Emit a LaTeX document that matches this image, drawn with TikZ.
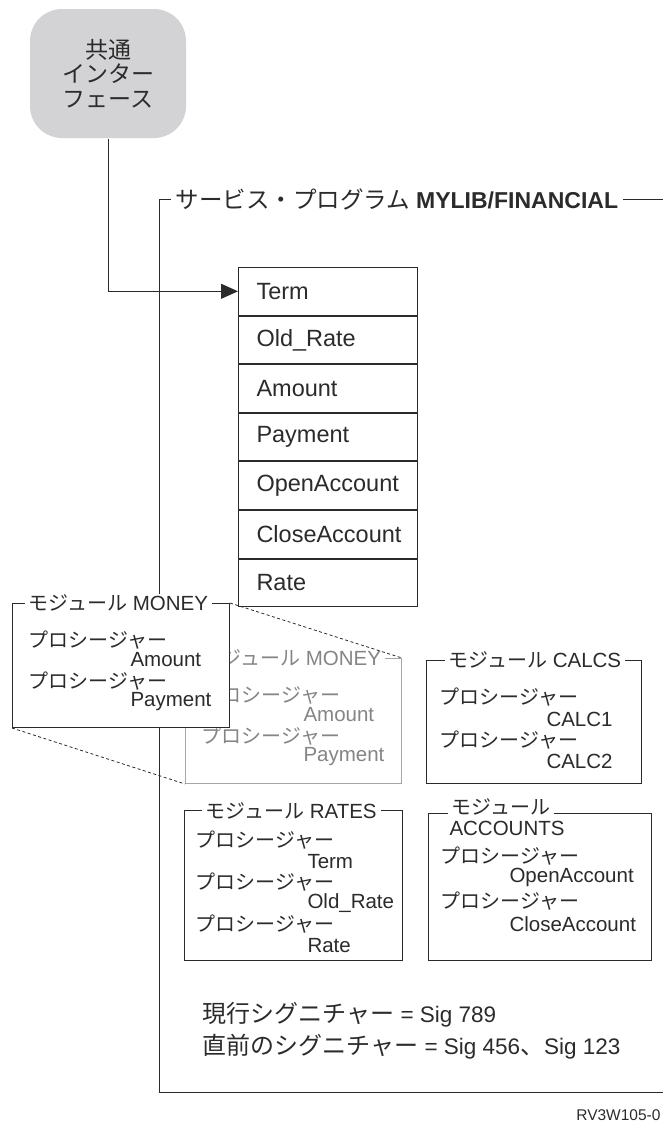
\documentclass[tikz,border=0pt]{standalone}
\usepackage{fontspec}
\setmainfont{Liberation Sans}
\newfontfamily\jpfont{Noto Sans CJK JP}
\usetikzlibrary{arrows.meta}
% Japanese run at a given size
\newcommand\jptext[2]{{\jpfont\fontsize{#1pt}{#1pt}\selectfont #2}}
\newcommand\proc{\jptext{20}{プロシージャー}}
\newcommand\modname{\jptext{20}{モジュール}}

\definecolor{ifgray}{HTML}{D3D3D5}
\definecolor{inkc}{HTML}{2B2B2B}

\begin{document}
\begin{tikzpicture}[x=1pt,y=-1pt,line width=1pt,
  ink/.style={draw=inkc},
  lbl/.style={anchor=west, inner sep=0pt, text=inkc},
  modtext/.style={lbl, font=\fontsize{20.5}{22}\selectfont},
  modbox/.style={draw=inkc, fill=white, anchor=north west, inner sep=0pt},
  modtitle/.style={anchor=west, fill=white, inner xsep=4pt, inner ysep=1pt, text=inkc,
    font=\fontsize{20.5}{22}\selectfont},
  faded/.style={text=black!48},
  fadedbox/.style={draw=black!35},
  tablerow/.style={draw=inkc, minimum width=179pt, minimum height=47.6pt,
    inner xsep=18pt, inner ysep=0pt, text width=143pt, align=left, text=inkc,
    font=\fontsize{23.5}{25}\selectfont},
  sigtext/.style={lbl, font=\fontsize{22.5}{24}\selectfont}
]
\useasboundingbox (0,0) rectangle (663,1122);

% common interface
\node[fill=ifgray, rounded corners=32pt, minimum width=156pt, minimum height=129pt,
      align=center, text=inkc, font=\jpfont\fontsize{23}{24.5}\selectfont]
  (iface) at (108,73.5) {共通\\インター\\フェース};

% service program frame (the front MONEY box is filled white and hides its middle part)
\draw[ink] (663,199) -- (159,199) -- (159,1092) -- (663,1092);
\node[fill=white, anchor=west, inner xsep=5pt, inner ysep=2pt, text=inkc,
      font=\fontsize{23}{25}\selectfont]
  (svc) at (170,199) {\jptext{23.5}{サービス・プログラム} \textbf{MYLIB/FINANCIAL}};

% signature table
\node[tablerow, anchor=north west] (r1) at (238,267) {Term};
\node[tablerow, anchor=north] (r2) at (r1.south) {Old\_Rate};
\node[tablerow, anchor=north] (r3) at (r2.south) {Amount};
\node[tablerow, anchor=north] (r4) at (r3.south) {Payment};
\node[tablerow, anchor=north] (r5) at (r4.south) {OpenAccount};
\node[tablerow, anchor=north] (r6) at (r5.south) {CloseAccount};
\node[tablerow, anchor=north] (r7) at (r6.south) {Rate};

\draw[ink, -{Triangle[length=17pt,width=15pt]}] (iface.south) |- (r1.west);

% module MONEY, faded copy behind
\node[modbox, fadedbox, minimum width=216pt, minimum height=125pt] (moneyb) at (185,658) {};
\node[modtitle, faded] (moneybt) at (197,658) {\modname{} MONEY};
\node[modtext, faded] (moneyb1) at (201,695) {\proc};
\node[modtext, faded] (moneyb2) at (303,715) {Amount};
\node[modtext, faded] (moneyb3) at (201,736) {\proc};
\node[modtext, faded] (moneyb4) at (303,757) {Payment};

% module MONEY, front
\node[modbox, minimum width=217pt, minimum height=124pt] (moneya) at (12,603) {};
\node[modtitle] (moneyat) at (24,603) {\modname{} MONEY};
\node[modtext] (moneya1) at (28,640) {\proc};
\node[modtext] (moneya2) at (130,660) {Amount};
\node[modtext] (moneya3) at (28,681) {\proc};
\node[modtext] (moneya4) at (130,702) {Payment};

\draw[ink, line width=0.8pt, dash pattern=on 3pt off 2.5pt] (moneya.north east) -- (moneyb.north east);
\draw[ink, line width=0.8pt, dash pattern=on 3pt off 2.5pt] (moneya.south west) -- (moneyb.south west);

% module CALCS
\node[modbox, minimum width=215pt, minimum height=123pt] (calcs) at (426,660) {};
\node[modtitle] (calcst) at (444,660) {\modname{} CALCS};
\node[modtext] (calcs1) at (439,697) {\proc};
\node[modtext] (calcs2) at (546,719) {CALC1};
\node[modtext] (calcs3) at (439,740) {\proc};
\node[modtext] (calcs4) at (546,761) {CALC2};

% module RATES
\node[modbox, minimum width=218pt, minimum height=150pt] (rates) at (184,810) {};
\node[modtitle] (ratest) at (201,811) {\modname{} RATES};
\node[modtext] (rates1) at (195,840) {\proc};
\node[modtext] (rates2) at (307,862) {Term};
\node[modtext] (rates3) at (195,882) {\proc};
\node[modtext] (rates4) at (307,903) {Old\_Rate};
\node[modtext] (rates5) at (195,924) {\proc};
\node[modtext] (rates6) at (307,946) {Rate};

% module ACCOUNTS
\node[modbox, minimum width=223pt, minimum height=147pt] (accts) at (428,813) {};
\node[modtitle] (acctst) at (447,807) {\modname\hspace{14pt}};
\node[modtext] (acctsn) at (449,828) {ACCOUNTS};
\node[modtext] (accts1) at (440,856) {\proc};
\node[modtext] (accts2) at (509,877) {OpenAccount};
\node[modtext] (accts3) at (440,901) {\proc};
\node[modtext] (accts4) at (509,924) {CloseAccount};

% signatures
\node[sigtext] (cursig) at (202,1015) {\jptext{24}{現行シグニチャー} = Sig 789};
\node[sigtext] (prevsig) at (202,1047) {\jptext{24}{直前のシグニチャー} = Sig 456\jptext{24}{、}Sig 123};

\node[anchor=east, inner sep=0pt, text=inkc, font=\fontsize{15.5}{16}\selectfont]
  (figid) at (661,1115) {RV3W105-0};
\end{tikzpicture}
\end{document}
